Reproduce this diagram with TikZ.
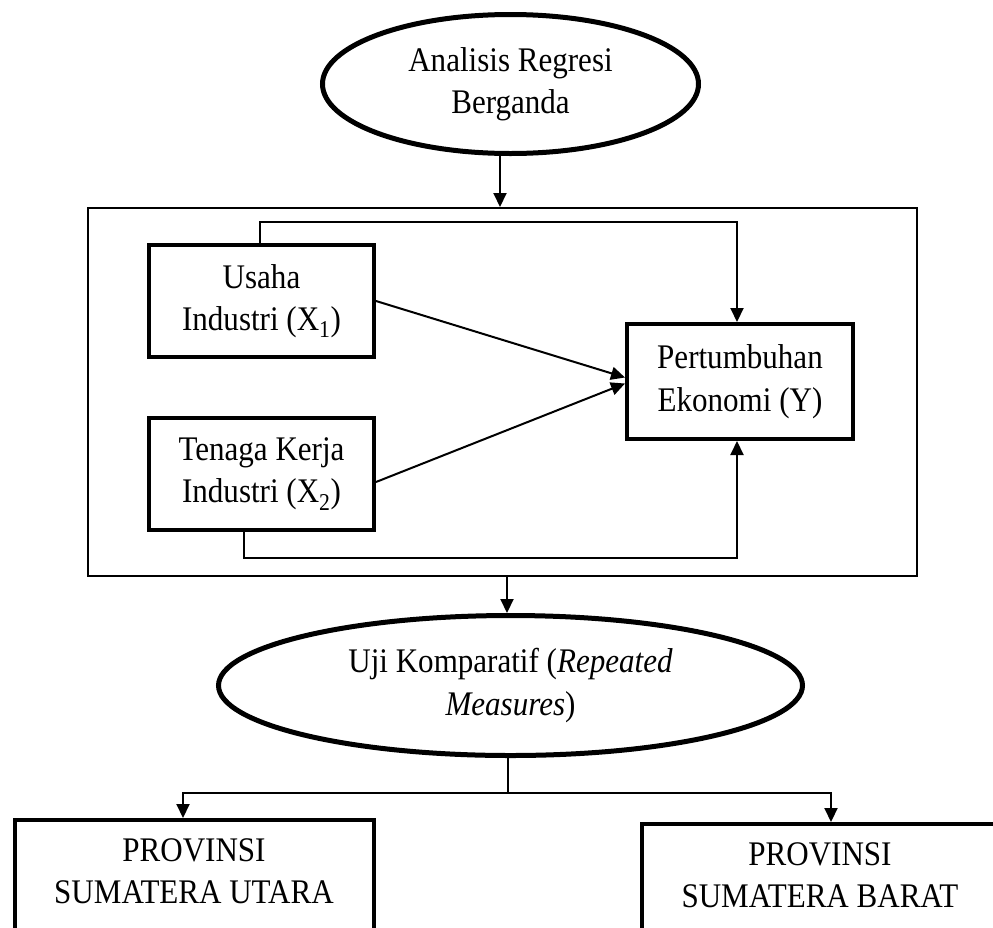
\documentclass[tikz,border=0pt]{standalone}
\usepackage{fontspec}
\setmainfont{Liberation Serif}[FakeStretch=0.9]
\usetikzlibrary{shapes.geometric,arrows.meta}
\begin{document}
\begin{tikzpicture}[x=1pt,y=-1pt,
  every node/.style={font=\fontsize{34.5}{42.5}\selectfont, align=center, inner sep=0pt},
  oval/.style={ellipse, draw, line width=5pt},
  varbox/.style={rectangle, draw, line width=4pt, minimum width=225pt, minimum height=112pt},
  provbox/.style={rectangle, draw, line width=4pt, minimum height=140pt},
  frame/.style={rectangle, draw, line width=2pt},
  conn/.style={line width=2pt},
  arr/.style={conn, -{Triangle[length=14pt,width=13pt]}}
]
\clip (0,0) rectangle (993,927);
\fill[white] (0,0) rectangle (993,927);

% nodes
\node[oval, minimum width=376pt, minimum height=139pt] (reg) at (510.5,84) {Analisis Regresi\\Berganda};
\node[frame, minimum width=829pt, minimum height=368pt] (big) at (502.5,392) {};
\node[varbox] (usaha) at (261.5,301) {Usaha\\Industri (X\textsubscript{1})};
\node[varbox] (tenaga) at (261.5,474) {Tenaga Kerja\\Industri (X\textsubscript{2})};
\node[varbox, minimum width=226pt, minimum height=115pt] (pert) at (740,381.5) {Pertumbuhan\\Ekonomi (Y)};
\node[oval, minimum width=584pt, minimum height=140pt] (uji) at (510.5,685.5) {Uji Komparatif (\textit{Repeated}\\\textit{Measures})};
\node[provbox, minimum width=359pt] (sumut) at (194.5,890) {};
\node[provbox, minimum width=356pt] (sumbar) at (820,894) {};
\node (sumutt) at (194,871) {PROVINSI\\SUMATERA UTARA};
\node (sumbart) at (820,875) {PROVINSI\\SUMATERA BARAT};

% connectors
\coordinate (a1) at ([xshift=-10.5pt]reg.south);
\draw[arr] (a1) -- (a1 |- big.north);

\coordinate (t1) at (737,222);
\draw[arr] ([xshift=-1.5pt]usaha.north) |- (t1) -- (t1 |- pert.north);

\coordinate (b1) at (737,558);
\draw[arr] ([xshift=-17.5pt]tenaga.south) |- (b1) -- (b1 |- pert.south);

\draw[arr] (usaha.east) -- ([yshift=4pt]pert.west);
\draw[arr] ([yshift=-8pt]tenaga.east) -- ([yshift=-2pt]pert.west);

\coordinate (a2) at ([xshift=4.5pt]big.south);
\draw[arr] (a2) -- (a2 |- uji.north);

\coordinate (sp) at (508,793);
\coordinate (L) at (183,793);
\coordinate (R) at (831,793);
\draw[conn] (uji.south -| sp) -- (sp);
\draw[arr] (sp) -- (L) -- (L |- sumut.north);
\draw[arr] (sp) -- (R) -- (R |- sumbar.north);
\end{tikzpicture}
\end{document}
